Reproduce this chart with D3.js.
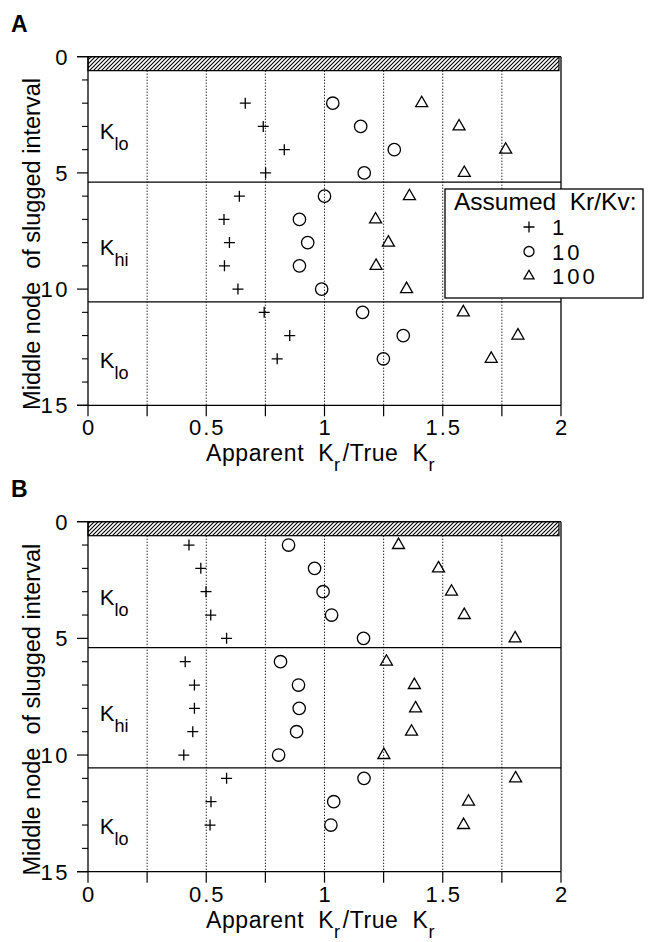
<!DOCTYPE html>
<html><head><meta charset="utf-8">
<script src="https://cdn.jsdelivr.net/npm/d3@7/dist/d3.min.js"></script>
<style>
body{margin:0;background:#fff}
text{font-family:"Liberation Sans",Arial,Helvetica,sans-serif;fill:#000;white-space:pre}
</style>
</head><body>
<svg id="chart" width="650" height="942"></svg>
<script>
// ---------- data ----------
const panelNames = ["A", "B"];
const seriesNames = ["1", "10", "100"];
const legendTitle = "Assumed  Kr/Kv:";

const aNodes  = [2, 3, 4, 5, 6, 7, 8, 9, 10, 11, 12, 13];
const aKr1    = [0.665, 0.741, 0.830, 0.751, 0.640, 0.575, 0.598, 0.577, 0.634, 0.745, 0.853, 0.800];
const aKr10   = [1.035, 1.153, 1.295, 1.168, 1.000, 0.894, 0.929, 0.894, 0.988, 1.161, 1.333, 1.249];
const aKr100  = [1.411, 1.569, 1.766, 1.591, 1.359, 1.216, 1.270, 1.218, 1.347, 1.587, 1.818, 1.705];

const bNodes  = [1, 2, 3, 4, 5, 6, 7, 8, 9, 10, 11, 12, 13];
const bKr1    = [0.427, 0.477, 0.499, 0.519, 0.586, 0.411, 0.450, 0.450, 0.443, 0.405, 0.586, 0.520, 0.516];
const bKr10   = [0.848, 0.958, 0.994, 1.030, 1.165, 0.814, 0.890, 0.893, 0.882, 0.806, 1.167, 1.039, 1.027];
const bKr100  = [1.313, 1.482, 1.537, 1.591, 1.806, 1.262, 1.380, 1.385, 1.368, 1.251, 1.808, 1.609, 1.588];

const xTicks = [0, 0.5, 1, 1.5, 2];
const xTickLabels = ["0", "0.5", "1", "1.5", "2"];
const xGrid = [0.25, 0.5, 0.75, 1, 1.25, 1.5, 1.75];
const xMinorTicks = [0, 0.25, 0.5, 0.75, 1, 1.25, 1.5, 1.75, 2];
const yTicks = [0, 5, 10, 15];
const yTickLabels = ["0", "5", "10", "15"];
const yMinorTicks = [1, 2, 3, 4, 6, 7, 8, 9, 11, 12, 13, 14];
const layerBounds = [5.4, 10.55];
const hatchDepth = 0.6;
const regionMain = ["K", "K", "K"];
const regionSub = ["lo", "hi", "lo"];
const regionY = [3.55, 8.55, 13.4];
const regionX = 0.05;
const yLabel = "Middle node  of slugged interval";

// ---------- drawing ----------
const svg = d3.select("#chart");
const defs = svg.append("defs");
const pat = defs.append("pattern").attr("id", "hatch").attr("patternUnits", "userSpaceOnUse")
  .attr("width", 4).attr("height", 4);
pat.append("path").attr("d", "M-1,1 l2,-2 M0,4 l4,-4 M3,5 l2,-2").attr("stroke", "#000").attr("stroke-width", 1.1);

const xRange = [88, 561];

function symbolPath(kind, s) {
  if (kind === 0) return `M${-s},0H${s}M0,${-s}V${s}`;
  if (kind === 1) return d3.symbol(d3.symbolCircle, Math.PI * s * s)();
  const h = s * 2 * Math.sqrt(3) / 2;
  return `M0,${-h * 2 / 3}L${s},${h / 3}L${-s},${h / 3}Z`;
}

function drawPanel(name, top, bottom, nodes, series, withLegend) {
  const x = d3.scaleLinear().domain([0, 2]).range(xRange);
  const y = d3.scaleLinear().domain([0, 15]).range([top, bottom]);
  const g = svg.append("g");

  g.append("text").attr("x", 11).attr("y", top - 25).style("font-size", "23px")
    .style("font-weight", "bold").text(name);

  // dotted grid
  g.selectAll(".grid").data(xGrid).join("line")
    .attr("x1", d => x(d)).attr("x2", d => x(d))
    .attr("y1", y(hatchDepth)).attr("y2", y(15))
    .attr("stroke", "#000").attr("stroke-width", 1).attr("stroke-dasharray", "1.2,1.8");

  // hatch band
  g.append("rect").attr("x", x(0)).attr("y", y(0)).attr("width", x(2) - x(0) - 2)
    .attr("height", y(hatchDepth) - y(0)).attr("fill", "url(#hatch)")
    .attr("stroke", "#000").attr("stroke-width", 1.2);

  // layer boundary lines
  g.selectAll(".lb").data(layerBounds).join("line")
    .attr("x1", x(0)).attr("x2", x(2)).attr("y1", d => y(d)).attr("y2", d => y(d))
    .attr("stroke", "#000").attr("stroke-width", 1.3);

  // frame
  g.append("line").attr("x1", x(0)).attr("x2", x(0)).attr("y1", y(0)).attr("y2", y(15)).attr("stroke", "#000").attr("stroke-width", 1.3);
  g.append("line").attr("x1", x(2)).attr("x2", x(2)).attr("y1", y(0)).attr("y2", y(15)).attr("stroke", "#000").attr("stroke-width", 1.3);
  g.append("line").attr("x1", x(0) - 11).attr("x2", x(2)).attr("y1", y(0)).attr("y2", y(0)).attr("stroke", "#000").attr("stroke-width", 1.3);
  g.append("line").attr("x1", x(0) - 11).attr("x2", x(2)).attr("y1", y(15)).attr("y2", y(15)).attr("stroke", "#000").attr("stroke-width", 1.3);

  // y ticks
  g.selectAll(".ymaj").data(yTicks).join("line")
    .attr("x1", x(0) - 11).attr("x2", x(0)).attr("y1", d => y(d)).attr("y2", d => y(d))
    .attr("stroke", "#000").attr("stroke-width", 1.2);
  g.selectAll(".ymin").data(yMinorTicks).join("line")
    .attr("x1", x(0) - 6).attr("x2", x(0)).attr("y1", d => y(d)).attr("y2", d => y(d))
    .attr("stroke", "#000").attr("stroke-width", 1.1);
  g.selectAll(".ylab").data(yTicks).join("text")
    .attr("x", 70).attr("y", d => y(d)).attr("dy", "0.36em").attr("text-anchor", "end")
    .style("font-size", "22px").style("letter-spacing", "2.5px")
    .text((d, i) => yTickLabels[i]);

  // x ticks
  g.selectAll(".xt").data(xMinorTicks).join("line")
    .attr("x1", d => x(d)).attr("x2", d => x(d)).attr("y1", y(15)).attr("y2", y(15) + 11)
    .attr("stroke", "#000").attr("stroke-width", 1.2);
  g.selectAll(".xlab").data(xTicks).join("text")
    .attr("x", d => x(d) + 1).attr("y", y(15) + 30).attr("text-anchor", "middle")
    .style("font-size", "22px").style("letter-spacing", "2px")
    .text((d, i) => xTickLabels[i]);

  // axis labels
  const xl = g.append("text").attr("x", 206).attr("y", y(15) + 56).style("font-size", "23px")
    .style("letter-spacing", "0.6px");
  xl.append("tspan").text("Apparent  K");
  xl.append("tspan").attr("dy", 10).style("font-size", "18px").text("r");
  xl.append("tspan").attr("dy", -10).attr("dx", 2).text("/True  K");
  xl.append("tspan").attr("dy", 10).style("font-size", "18px").text("r");

  g.append("text").attr("transform", `translate(40,${(y(0) + y(15)) / 2 + 13}) rotate(-90)`)
    .attr("text-anchor", "middle").style("font-size", "23.5px").text(yLabel);

  // region labels
  regionY.forEach((ry, i) => {
    const t = g.append("text").attr("x", x(regionX)).attr("y", y(ry)).style("font-size", "22px");
    t.append("tspan").text(regionMain[i]);
    t.append("tspan").attr("dy", 11).style("font-size", "18px").text(regionSub[i]);
  });

  // points
  series.forEach((vals, k) => {
    g.selectAll(".pt" + k).data(vals).join("path")
      .attr("transform", (d, i) => `translate(${x(d)},${y(nodes[i])})`)
      .attr("d", symbolPath(k, k === 0 ? 5.5 : (k === 1 ? 6.2 : 6)))
      .attr("fill", "none").attr("stroke", "#000").attr("stroke-width", 1.3);
  });

  if (withLegend) {
    const lg = g.append("g");
    lg.append("rect").attr("x", 445).attr("y", 189).attr("width", 198).attr("height", 109)
      .attr("fill", "#fff").attr("stroke", "#000").attr("stroke-width", 1.3);
    lg.append("text").attr("x", 454).attr("y", 210).style("font-size", "24.5px").text(legendTitle);
    seriesNames.forEach((s, k) => {
      const cy = 227 + k * 24.5;
      lg.append("path").attr("transform", `translate(529,${cy})`)
        .attr("d", symbolPath(k, k === 0 ? 5.5 : 5))
        .attr("fill", "none").attr("stroke", "#000").attr("stroke-width", 1.3);
      lg.append("text").attr("x", 552).attr("y", cy + 8).style("font-size", "22px")
        .style("letter-spacing", "3px").text(s);
    });
  }
}

drawPanel(panelNames[0], 56.7, 405.3, aNodes, [aKr1, aKr10, aKr100], true);
drawPanel(panelNames[1], 521.7, 871.7, bNodes, [bKr1, bKr10, bKr100], false);
</script>
</body></html>
